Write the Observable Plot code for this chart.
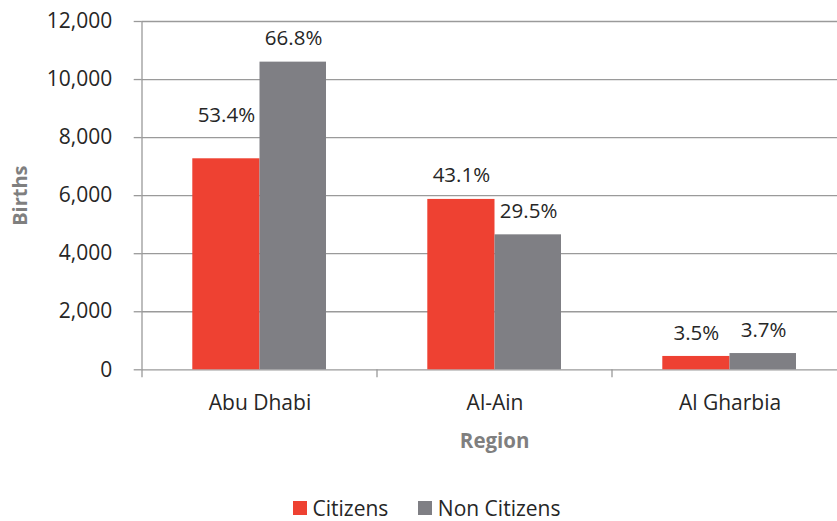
<!DOCTYPE html>
<html><head><meta charset="utf-8">
<script src="https://cdn.jsdelivr.net/npm/d3@7"></script>
<script src="https://cdn.jsdelivr.net/npm/@observablehq/plot@0.6"></script>
<style>
body{margin:0;background:#fff;font-family:"Open Sans",sans-serif;}
#legend{position:absolute;top:496px;left:293px;display:flex;align-items:center;font-size:21px;color:#262626;height:24px;white-space:nowrap;}
.sw{width:13.5px;height:13.5px;display:inline-block;margin-right:6px;}
.item{display:flex;align-items:center;margin-right:30px;}
</style></head><body>
<div id="chart"></div>
<div id="legend"></div>
<script>
const regions = ["Abu Dhabi", "Al-Ain", "Al Gharbia"];
const seriesNames = ["Citizens", "Non Citizens"];
const citizens = [7270, 5870, 460];
const nonCitizens = [10600, 4650, 560];
const citizenPct = ["53.4%", "43.1%", "3.5%"];
const nonCitizenPct = ["66.8%", "29.5%", "3.7%"];
const yTicks = [0, 2000, 4000, 6000, 8000, 10000, 12000];
const colors = ["#EE4132", "#7F7F84"];

const gridColor = "#9a9a9a";
const textColor = "#262626";
const titleColor = "#7f7f7f";

const citData = regions.map((r, i) => ({region: r, series: seriesNames[0], value: citizens[i], pct: citizenPct[i]}));
const nonData = regions.map((r, i) => ({region: r, series: seriesNames[1], value: nonCitizens[i], pct: nonCitizenPct[i]}));

const axisLines = (index, scales, values, dims) => {
  const x = scales.x, y = scales.y;
  const g = d3.create("svg:g").attr("stroke", gridColor).attr("stroke-width", 1.3);
  const left = x(regions[0]);
  g.append("line").attr("x1", left).attr("x2", left)
    .attr("y1", y(yTicks[yTicks.length - 1])).attr("y2", y(0) + 8);
  regions.slice(1).forEach(r => {
    const bx = x(r);
    g.append("line").attr("x1", bx).attr("x2", bx).attr("y1", y(0)).attr("y2", y(0) + 8);
  });
  return g.node();
};

const chart = Plot.plot({
  width: 837,
  height: 480,
  marginLeft: 141.7,
  marginRight: -9.7,
  marginTop: 21,
  marginBottom: 110.7,
  style: {fontFamily: "'Open Sans', sans-serif", fontSize: "21px", background: "#fff", overflow: "visible"},
  x: {domain: regions, padding: 0},
  y: {domain: [0, 12000]},
  marks: [
    Plot.gridY(yTicks, {stroke: gridColor, strokeOpacity: 1, strokeWidth: 1.3}),
    Plot.barY(citData, {x: "region", y: "value", fill: colors[0], insetLeft: 50.3, insetRight: 117.5}),
    Plot.barY(nonData, {x: "region", y: "value", fill: colors[1], insetLeft: 117.5, insetRight: 51}),
    axisLines,
    Plot.axisY(yTicks, {tickSize: 8, tickPadding: 22, tickFormat: d3.format(","), stroke: gridColor, strokeWidth: 1.3, fill: textColor, fontSize: 21, label: null}),
    Plot.axisX({tickSize: 0, tickPadding: 25, fill: textColor, fontSize: 21, label: null}),
    Plot.text(citData.filter(d => d.region !== regions[0]), {x: "region", y: "value", text: "pct", dx: -33.6, dy: -23.5, fontSize: 20.5, fill: textColor}),
    Plot.text(citData.filter(d => d.region === regions[0]), {x: "region", y: "value", text: "pct", dx: -33.6, dy: -43, fontSize: 20.5, fill: textColor}),
    Plot.text(nonData, {x: "region", y: "value", text: "pct", dx: 33.6, dy: -23.5, fontSize: 20.5, fill: textColor}),
    Plot.text(["Births"], {frameAnchor: "left", textAnchor: "middle", lineAnchor: "middle", rotate: -90, dx: -121.7, fontSize: 20, fontWeight: "bold", fill: titleColor}),
    Plot.text(["Region"], {frameAnchor: "bottom", textAnchor: "middle", lineAnchor: "middle", dy: 71.7, fontSize: 20.5, fontWeight: "bold", fill: titleColor})
  ]
});
document.getElementById("chart").appendChild(chart);

const legend = document.getElementById("legend");
seriesNames.forEach((s, i) => {
  const item = document.createElement("div");
  item.className = "item";
  const sw = document.createElement("span");
  sw.className = "sw";
  sw.style.background = colors[i];
  item.appendChild(sw);
  item.appendChild(document.createTextNode(s));
  legend.appendChild(item);
});
</script>
</body></html>
